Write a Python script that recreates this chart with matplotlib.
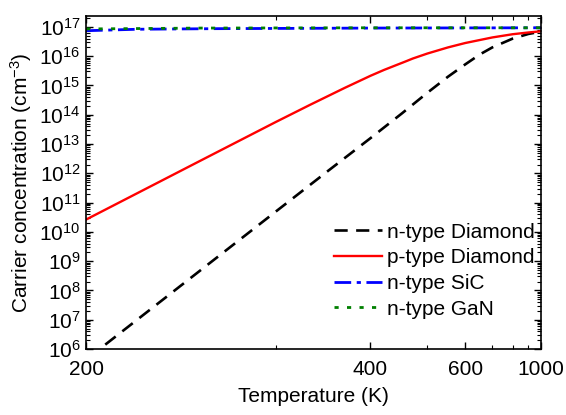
import numpy as np
import matplotlib
matplotlib.use("Agg")
import matplotlib.pyplot as plt
from matplotlib.ticker import FixedLocator, NullFormatter, LogLocator

plt.rcParams['font.family'] = ['Liberation Sans', 'DejaVu Sans']
plt.rcParams['mathtext.default'] = 'regular'

# Temperatures (K) and log10 carrier concentrations
t_n_dia = [207, 250, 300, 350, 400, 450, 500, 550, 600, 650, 700, 800, 900, 1000]
log_n_dia = [6.15, 8.67, 10.69, 12.13, 13.2, 14.05, 14.75, 15.3, 15.72, 16.06, 16.3, 16.6, 16.76, 16.84]

t_p_dia = [200, 250, 300, 330, 367, 400, 420, 438, 455, 470, 500, 550, 600, 700, 800, 900, 1000]
log_p_dia = [10.42, 12.42, 13.75, 14.34, 14.92, 15.33, 15.53, 15.68, 15.81, 15.92, 16.09,
             16.3, 16.45, 16.64, 16.75, 16.81, 16.85]

t_sic = [200, 220, 260, 400, 1000]
log_sic = [16.87, 16.92, 16.94, 16.96, 16.97]

t_gan = [200, 250, 400, 1000]
log_gan = [16.93, 16.96, 16.97, 16.97]

labels = ["n-type Diamond", "p-type Diamond", "n-type SiC", "n-type GaN"]
x_major = [200, 400, 600, 1000]
x_minor = [300, 500, 700, 800, 900]


def fwd(x):
    x = np.asarray(x, dtype=float)
    with np.errstate(divide='ignore'):
        return -1.0 / x


def inv(y):
    y = np.asarray(y, dtype=float)
    with np.errstate(divide='ignore'):
        return -1.0 / y


fig = plt.figure(figsize=(5.66, 4.15), dpi=100)
ax = fig.add_axes([0.152, 0.159, 0.804, 0.803])
ax.set_xscale('function', functions=(fwd, inv))
ax.set_yscale('log')

ax.plot(t_n_dia, 10 ** np.array(log_n_dia), color='black', lw=1.9,
        dashes=(5, 3.2), label=labels[0])
ax.plot(t_p_dia, 10 ** np.array(log_p_dia), color='red', lw=1.7, label=labels[1])
ax.plot(t_sic, 10 ** np.array(log_sic), color='blue', lw=2.0,
        dashes=(6, 2, 1.5, 2), label=labels[2])
ax.plot(t_gan, 10 ** np.array(log_gan), color='green', lw=2.0,
        dashes=(1.5, 3), label=labels[3])

ax.set_xlim(200, 1000)
ax.set_ylim(1e6, 2.4e17)

ax.xaxis.set_major_locator(FixedLocator(x_major))
ax.xaxis.set_minor_locator(FixedLocator(x_minor))
ax.xaxis.set_minor_formatter(NullFormatter())
ax.set_xticklabels([str(v) for v in x_major])
ax.yaxis.set_major_locator(LogLocator(base=10, numticks=20))
ax.yaxis.set_minor_locator(LogLocator(base=10, subs=np.arange(2, 10), numticks=20))

ax.tick_params(which='both', direction='in', top=True, right=True, labelsize=15)
ax.tick_params(which='major', length=5, width=1)
ax.tick_params(which='minor', length=3, width=0.8)
ax.tick_params(axis='x', which='major', pad=8)
ax.tick_params(axis='y', which='major', pad=4)
for s in ax.spines.values():
    s.set_linewidth(1.2)

ax.set_xlabel("Temperature (K)", fontsize=15, labelpad=6)
ax.set_ylabel("Carrier concentration (cm$^{-3}$)", fontsize=15, labelpad=4)

ax.legend(loc='lower right', bbox_to_anchor=(0.99, 0.085), frameon=False, fontsize=15,
          handlelength=2.3, handletextpad=0.25, labelspacing=0.32,
          borderaxespad=0.0, borderpad=0.1)

fig.savefig("out.png", dpi=100)
